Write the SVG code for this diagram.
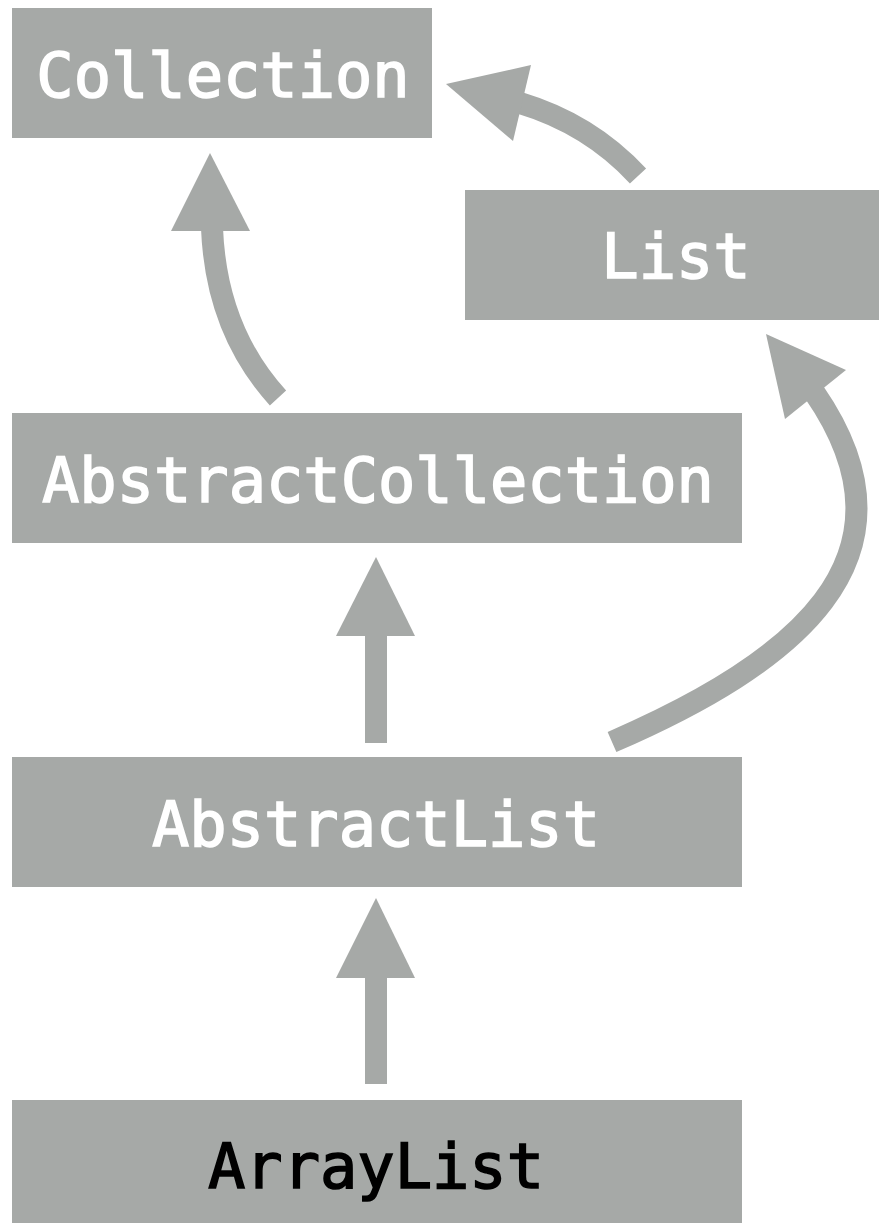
<svg xmlns="http://www.w3.org/2000/svg" width="879" height="1223" viewBox="0 0 879 1223">
  <style>
    .box { fill: #a6a9a7; }
    .label { font-family: "DejaVu Sans Mono", "Liberation Mono", monospace; font-weight: normal; font-size: 62px; text-anchor: middle; fill: #ffffff; stroke: #ffffff; stroke-width: 1.6; }
    .label.dark { fill: #000000; stroke: #000000; }
    .shaft { fill: none; stroke: #a6a9a7; stroke-width: 22; }
    .head { fill: #a6a9a7; }
  </style>
  <rect width="879" height="1223" fill="#ffffff"/>

  <g id="connectors">
    <!-- List -> Collection -->
    <path class="shaft" d="M638,176 Q590,124 520,103"/>
    <polygon class="head" points="446,84 531,65 513,141"/>
    <!-- AbstractCollection -> Collection -->
    <path class="shaft" d="M278,398 Q216,330 212,228"/>
    <polygon class="head" points="210,153 171,231 250,231"/>
    <!-- AbstractList -> List -->
    <path class="shaft" d="M612,742 C790,665 930,560 814,392"/>
    <polygon class="head" points="766,334 846,370 785,419"/>
    <!-- AbstractList -> AbstractCollection -->
    <line class="shaft" x1="376" y1="743" x2="376" y2="630"/>
    <polygon class="head" points="376,557 336,636 415,636"/>
    <!-- ArrayList -> AbstractList -->
    <line class="shaft" x1="376" y1="1084" x2="376" y2="972"/>
    <polygon class="head" points="376,898 336,978 415,978"/>
  </g>

  <g id="collection">
    <rect class="box" x="12" y="8" width="420" height="130"/>
    <text class="label" x="223" y="97">Collection</text>
  </g>
  <g id="list">
    <rect class="box" x="465" y="190" width="414" height="130"/>
    <text class="label" x="676" y="278">List</text>
  </g>
  <g id="abstract-collection">
    <rect class="box" x="12" y="413" width="730" height="130"/>
    <text class="label" x="378" y="502">AbstractCollection</text>
  </g>
  <g id="abstract-list">
    <rect class="box" x="12" y="757" width="730" height="130"/>
    <text class="label" x="376" y="846">AbstractList</text>
  </g>
  <g id="array-list">
    <rect class="box" x="12" y="1100" width="730" height="123"/>
    <text class="label dark" x="376" y="1188">ArrayList</text>
  </g>
</svg>
